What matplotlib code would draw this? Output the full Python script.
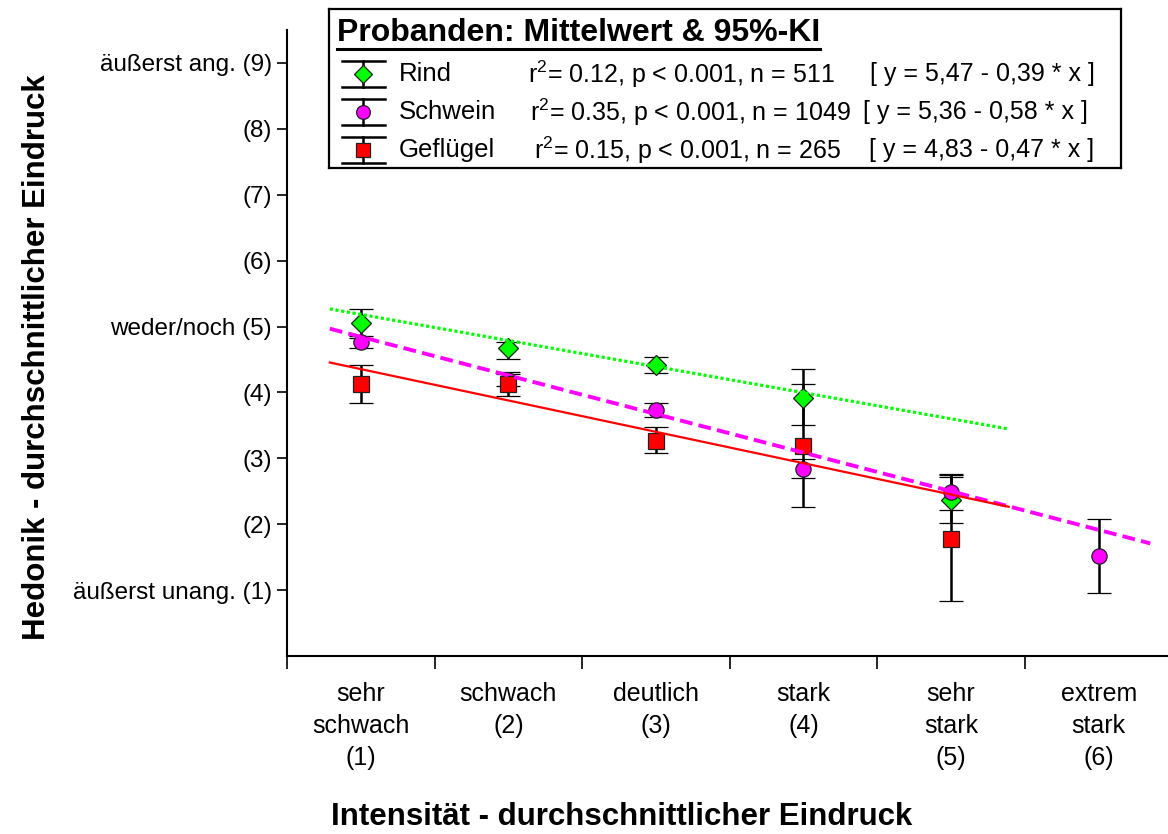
import numpy as np
import matplotlib
matplotlib.use("Agg")
import matplotlib.pyplot as plt

plt.rcParams['font.family'] = ['Liberation Sans', 'DejaVu Sans']
plt.rcParams['mathtext.fontset'] = 'custom'
plt.rcParams['mathtext.rm'] = 'Liberation Sans'
plt.rcParams['mathtext.it'] = 'Liberation Sans'
plt.rcParams['mathtext.default'] = 'regular'

# Kategorien der Intensitaet (x) und Hedonik-Skala (y)
kategorien = ['sehr\nschwach\n(1)', 'schwach\n(2)', 'deutlich\n(3)', 'stark\n(4)',
              'sehr\nstark\n(5)', 'extrem\nstark\n(6)']
y_labels = ['äußerst unang. (1)', '(2)', '(3)', '(4)', 'weder/noch (5)',
            '(6)', '(7)', '(8)', 'äußerst ang. (9)']

# Mittelwerte und 95%-KI
rind_x = [1, 2, 3, 4, 5]
rind_mw = [5.05, 4.67, 4.41, 3.92, 2.37]
rind_lo = [4.83, 4.51, 4.30, 3.51, 2.02]
rind_hi = [5.26, 4.76, 4.54, 4.35, 2.74]

schwein_x = [1, 2, 3, 4, 5, 6]
schwein_mw = [4.77, 4.19, 3.74, 2.84, 2.49, 1.52]
schwein_lo = [4.67, 4.10, 3.63, 2.70, 2.21, 0.95]
schwein_hi = [4.86, 4.28, 3.84, 2.99, 2.76, 2.08]

gefl_x = [1, 2, 3, 4, 5]
gefl_mw = [4.13, 4.13, 3.27, 3.19, 1.77]
gefl_lo = [3.84, 3.94, 3.08, 2.26, 0.83]
gefl_hi = [4.41, 4.31, 3.48, 4.13, 2.71]

# Regressionsgeraden (wie gezeichnet)
reg_a = [5.58, 5.43, 4.83]
reg_b = [-0.396, -0.586, -0.476]
reg_x0 = [0.79, 0.79, 0.79]
reg_x1 = [5.39, 6.35, 5.39]

namen = ['Rind', 'Schwein', 'Geflügel']
statistik = ['r$^2$= 0.12, p < 0.001, n = 511',
             'r$^2$= 0.35, p < 0.001, n = 1049',
             'r$^2$= 0.15, p < 0.001, n = 265']
gleichungen = ['[ y = 5,47 - 0,39 * x ]',
               '[ y = 5,36 - 0,58 * x ]',
               '[ y = 4,83 - 0,47 * x ]']

farben = ['#00ff00', '#ff00ff', '#ff0000']
marker = ['D', 'o', 's']
msize = [10.5, 11, 11.5]
linien = [(0, (1.0, 0.8)), (0, (3.3, 1.6)), '-']
lbreiten = [2.3, 2.8, 1.6]

fig = plt.figure(figsize=(11.68, 8.34), dpi=100)
ax = fig.add_axes([287 / 1168, 1 - 656 / 834, 1 - 287 / 1168, (656 - 30) / 834])

serien = [(rind_x, rind_mw, rind_lo, rind_hi),
          (schwein_x, schwein_mw, schwein_lo, schwein_hi),
          (gefl_x, gefl_mw, gefl_lo, gefl_hi)]

for i, (xs, mw, lo, hi) in enumerate(serien):
    mw = np.array(mw)
    err = [mw - np.array(lo), np.array(hi) - mw]
    ax.errorbar(xs, mw, yerr=err, fmt=marker[i], color='black', ecolor='black',
                elinewidth=1.8, capsize=8.5, capthick=1.8, markersize=msize[i],
                markerfacecolor=farben[i], markeredgecolor='#202020',
                markeredgewidth=0.9, zorder=3)

for i in range(3):
    xx = np.array([reg_x0[i], reg_x1[i]])
    line, = ax.plot(xx, reg_a[i] + reg_b[i] * xx, color=farben[i],
                    linestyle=linien[i], linewidth=lbreiten[i], zorder=4)
    line.set_dash_capstyle('butt')

ax.set_xlim(0.5, 6.47)
ax.set_ylim(0, 9.5)
ax.spines['top'].set_visible(False)
ax.spines['right'].set_visible(False)
ax.spines['left'].set_linewidth(1.5)
ax.spines['bottom'].set_linewidth(1.5)

ax.set_yticks(np.arange(1, 10))
ax.set_yticklabels(y_labels, fontsize=17.5)
ax.tick_params(axis='y', direction='out', length=7, width=1.2, pad=4)

ax.set_xticks(np.arange(0.5, 6.0, 1.0))
ax.set_xticklabels([])
ax.tick_params(axis='x', which='major', direction='out', length=9, width=1.2)
ax.set_xticks(np.arange(1, 7), minor=True)
ax.set_xticklabels(kategorien, minor=True, fontsize=18, linespacing=1.42)
ax.tick_params(axis='x', which='minor', length=0, pad=19)

fig.text(622 / 1168, 1 - 817 / 834, 'Intensität - durchschnittlicher Eindruck',
         fontsize=22.5, fontweight='bold', ha='center', va='center')
fig.text(37 / 1168, 1 - 357 / 834, 'Hedonik - durchschnittlicher Eindruck',
         fontsize=22.5, fontweight='bold', ha='center', va='center', rotation=90)

# Legende als eigene Achse in Pixelkoordinaten
lx0, ly0, lx1, ly1 = 329, 9, 1121, 168
lg = fig.add_axes([lx0 / 1168, 1 - ly1 / 834, (lx1 - lx0) / 1168, (ly1 - ly0) / 834])
lg.set_xlim(lx0, lx1)
lg.set_ylim(ly1, ly0)
lg.set_xticks([])
lg.set_yticks([])
for s in lg.spines.values():
    s.set_linewidth(1.6)

titel = lg.text(337, 33, 'Probanden: Mittelwert & 95%-KI', fontsize=23,
                fontweight='bold', ha='left', va='center')
fig.canvas.draw()
bb = titel.get_window_extent().transformed(lg.transData.inverted())
lg.plot([bb.x0, bb.x1], [49, 49], color='black', linewidth=2.2)

zeilen_y = [74, 112, 150]
stat_x = [528, 530, 534]
gl_x = [870, 863, 869]
for i in range(3):
    yy = zeilen_y[i]
    lg.plot([363, 363], [yy - 13, yy + 13], color='black', linewidth=1.8)
    lg.plot([342, 385], [yy - 13, yy - 13], color='black', linewidth=1.8)
    lg.plot([342, 385], [yy + 13, yy + 13], color='black', linewidth=1.8)
    lg.plot([363], [yy], marker=marker[i], markersize=msize[i] * 0.9,
            markerfacecolor=farben[i], markeredgecolor='#202020',
            markeredgewidth=0.9, linestyle='none')
    lg.text(399, yy, namen[i], fontsize=18.5, ha='left', va='center')
    lg.text(stat_x[i], yy, statistik[i], fontsize=18, ha='left', va='center')
    lg.text(gl_x[i], yy, gleichungen[i], fontsize=18, ha='left', va='center')

fig.savefig('out.png', dpi=100)
